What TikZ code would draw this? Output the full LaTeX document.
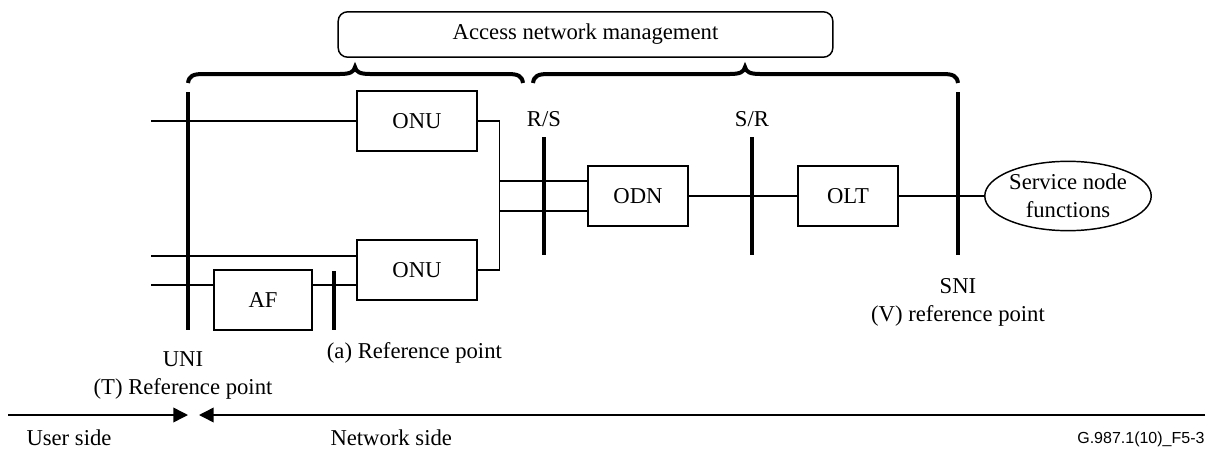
\documentclass[tikz,border=0pt]{standalone}
\usepackage{fontspec}
\setmainfont{Liberation Serif}
\newfontfamily\figsans{Liberation Sans}
\usetikzlibrary{arrows.meta,shapes.geometric}

\tikzset{every picture/.style={line width=0.75pt}}
\tikzset{
  blk/.style={draw, line width=1.1pt, minimum width=90pt, minimum height=45pt, inner sep=0pt},
  refbar/.style={line width=3.4pt},
  wire/.style={line width=1.1pt},
  brc/.style={line width=3pt},
  tip/.style={-{Triangle[length=11pt,width=11pt]}},
  foot/.style={anchor=base west, inner sep=0pt}
}

\begin{document}
\begin{tikzpicture}[x=0.75pt,y=0.75pt,yscale=-1,xscale=1,font=\fontsize{17}{21}\selectfont]
\useasboundingbox (0,0) rectangle (1208,450);

%Management box
\node [draw, line width=1.1pt, rounded corners=7pt, minimum width=371pt, minimum height=34pt] (mgmt) at (585.5,34.5) {Access network management};

%Braces
\draw [brc] (188,83) .. controls (189,76) and (193,74) .. (203,74) -- (340,74) .. controls (350,74) and (354,72) .. (355,67) .. controls (356,72) and (360,74) .. (370,74) -- (508,74) .. controls (518,74) and (522,76) .. (523,83) ;
\draw [brc] (533,83) .. controls (534,76) and (538,74) .. (548,74) -- (730,74) .. controls (740,74) and (744,72) .. (745,67) .. controls (746,72) and (750,74) .. (760,74) -- (943,74) .. controls (953,74) and (957,76) .. (958,83) ;

%Boxes
\node [blk] (onuA) at (417,121) {ONU};
\node [blk] (onuB) at (417,270) {ONU};
\node [blk, minimum width=73.5pt] (af) at (263,300) {AF};
\node [blk, minimum width=75pt] (odn) at (638,196) {ODN};
\node [blk, minimum width=75pt] (olt) at (848,196) {OLT};
\node [draw, ellipse, line width=1.1pt, minimum width=111pt, minimum height=52pt, align=center, inner sep=0pt] (snf) at (1068,196) {Service node\\functions};

%Reference bars
\coordinate (uniT) at (188,92);  \coordinate (uniB) at (188,330);
\coordinate (aT) at (334,271);   \coordinate (aB) at (334,330);
\coordinate (rsT) at (544,137);  \coordinate (rsB) at (544,255);
\coordinate (srT) at (752,137);  \coordinate (srB) at (752,255);
\coordinate (sniT) at (958,92);  \coordinate (sniB) at (958,255);

%User lines
\coordinate (inA) at (151,121);
\coordinate (inB) at (151,256);
\coordinate (inC) at (151,285);
\draw [wire] (inA) -- (onuA.west) ;
\draw [wire] (inB) -- (inB -| onuB.west) ;
\draw [wire] (inC) -- (inC -| af.west) ;
\draw [wire] (inC -| af.east) -- (inC -| onuB.west) ;

%ONU to ODN
\draw [wire] (onuA.east) -- ++(22,0) |- ([yshift=11.25pt]odn.west) ;
\draw [wire] (onuB.east) -- ++(22,0) |- ([yshift=-11.25pt]odn.west) ;
\draw [wire] (odn) -- (olt) ;
\draw [wire] (olt) -- (snf) ;

\draw [refbar] (uniT) -- (uniB) ;
\draw [refbar] (aT) -- (aB) ;
\draw [refbar] (rsT) -- (rsB) ;
\draw [refbar] (srT) -- (srB) ;
\draw [refbar] (sniT) -- (sniB) ;

%Labels
\node [anchor=south] (rsL) at ([yshift=-4]rsT) {R/S};
\node [anchor=south] (srL) at ([yshift=-4]srT) {S/R};
\node [anchor=north, align=center] (sniL) at ([yshift=14]sniB) {SNI\\(V) reference point};
\node [anchor=north west] (aL) at (322,338) {(a) Reference point};
\node [anchor=north, align=center] (uniL) at (183,347) {UNI\\(T) Reference point};

%Sides
\coordinate (usrL) at (8,415);    \coordinate (usrR) at (188,415);
\coordinate (netR) at (1205,415); \coordinate (netL) at (199,415);
\draw [wire, tip] (usrL) -- (usrR) ;
\draw [wire, tip] (netR) -- (netL) ;
\node [foot] (usr) at (26,445) {User side};
\node [foot] (net) at (330,445) {Network side};
\node [foot, anchor=base east, font=\figsans\fontsize{12}{14}\selectfont] (fig) at (1205,443) {G.987.1(10)\_F5-3};

\end{tikzpicture}
\end{document}
